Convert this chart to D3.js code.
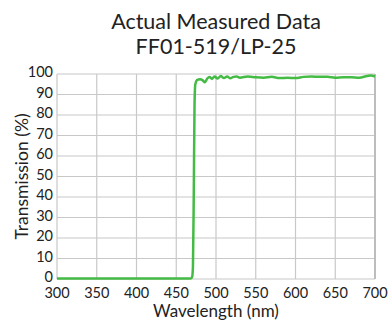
<!DOCTYPE html>
<html><head><meta charset="utf-8">
<script src="https://cdn.jsdelivr.net/npm/d3@7"></script>
<style>body{margin:0;background:#fff}text{font-family:Lato,"Noto Sans",sans-serif;fill:#222}</style>
</head><body>
<svg id="c" width="390" height="320"></svg>
<script>
const wavelength = [300,350,400,450,465,469,470,471,472,473,474,476,480,483,486,489,492,495,498,502,506,510,514,518,522,526,530,540,550,560,570,580,590,600,610,620,630,640,650,660,670,680,690,695,700];
const transmission = [0.3,0.3,0.3,0.3,0.3,0.4,1,6,40,85,95,97,97.5,97,96,97.8,98.5,97.6,98.8,97.8,99,98,98.8,97.9,98.6,98.8,98.2,98.8,98.4,98.2,98.6,98,98.2,98,98.6,98.8,98.6,98.6,98.2,98.4,98.4,98.2,99,99.3,98.8];
const xTicks = [300,350,400,450,500,550,600,650,700];
const yTicks = [0,10,20,30,40,50,60,70,80,90,100];
const titleLines = ["Actual Measured Data","FF01-519/LP-25"];

const svg = d3.select("#c");
const m = {l:57, r:375, t:74, b:279};
const x = d3.scaleLinear().domain([300,700]).range([m.l,m.r]);
const y = d3.scaleLinear().domain([0,100]).range([m.b,m.t]);

svg.append("g").selectAll("line").data(xTicks).join("line")
  .attr("x1",d=>x(d)).attr("x2",d=>x(d)).attr("y1",m.t).attr("y2",m.b)
  .attr("stroke","#c8c8c8").attr("stroke-width",1.2);
svg.append("g").selectAll("line").data(yTicks).join("line")
  .attr("y1",d=>y(d)).attr("y2",d=>y(d)).attr("x1",m.l).attr("x2",m.r)
  .attr("stroke","#c8c8c8").attr("stroke-width",1.2);
svg.append("line").attr("x1",m.r).attr("x2",m.r).attr("y1",m.t).attr("y2",m.b).attr("stroke","#bdbdbd").attr("stroke-width",2);

svg.append("g").selectAll("text").data(xTicks).join("text")
  .attr("x",d=>x(d)).attr("y",m.b+19).attr("text-anchor","middle").attr("font-size",14.5).text(d=>d);
svg.append("g").selectAll("text").data(yTicks).join("text")
  .attr("x",m.l-4).attr("y",d=>y(d)+3).attr("text-anchor","end").attr("font-size",14.5).text(d=>d);

svg.append("path").datum(d3.zip(wavelength,transmission))
  .attr("d",d3.line().x(d=>x(d[0])).y(d=>y(d[1])).curve(d3.curveMonotoneX))
  .attr("fill","none").attr("stroke","#44bb44").attr("stroke-width",2.5);

svg.append("g").selectAll("text").data(titleLines).join("text")
  .attr("x",(m.l+m.r)/2).attr("y",(d,i)=>29+i*25).attr("text-anchor","middle").attr("font-size",21.5).text(d=>d);
svg.append("text").attr("x",(m.l+m.r)/2).attr("y",317).attr("text-anchor","middle").attr("font-size",17).text("Wavelength (nm)");
svg.append("text").attr("transform",`translate(28,${(m.t+m.b)/2}) rotate(-90)`).attr("text-anchor","middle").attr("font-size",17.5).text("Transmission (%)");
</script>
</body></html>
